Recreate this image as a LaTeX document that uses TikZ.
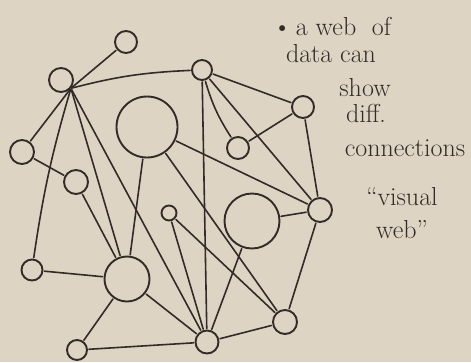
\documentclass[tikz,border=0pt]{standalone}
\usepackage{tikz}
\usetikzlibrary{positioning}
\definecolor{paper}{RGB}{222,212,196}
\definecolor{ink}{RGB}{50,43,40}

\begin{document}
\begin{tikzpicture}[x=1pt,y=-1pt,
  dot/.style={circle,draw=ink,line width=1.9pt,inner sep=0pt,minimum size=#1},
  link/.style={draw=ink,line width=1.6pt,line cap=round,shorten <=1pt,shorten >=1pt},
  note/.style={text=ink,anchor=base,inner sep=0pt,font=\fontsize{26}{30}\selectfont}]
% Paper
\fill[paper] (0,0) rectangle (471,362);
\useasboundingbox (0,0) rectangle (471,362);
% Nodes
\node[dot=22pt] (A) at (126,42) {};
\node[dot=24pt] (B) at (61,80) {};
\node[dot=20pt] (C) at (202,70) {};
\node[dot=61pt] (D) at (147,127) {};
\node[dot=24pt] (E) at (22,152) {};
\node[dot=24pt] (F) at (76,182) {};
\node[dot=22pt] (G) at (303,107) {};
\node[dot=22pt] (H) at (238,148) {};
\node[dot=24pt] (I) at (320,210) {};
\node[dot=55pt] (J) at (252,221) {};
\node[dot=15pt] (K) at (169,213) {};
\node[dot=21pt] (L) at (32,270) {};
\node[dot=45pt] (M) at (127,279) {};
\node[dot=20pt] (N) at (77,350) {};
\node[dot=23pt] (O) at (207,342) {};
\node[dot=24pt] (P) at (285,322) {};
% Links from the left hub
\draw[link] (B.-40) -- (A);
\draw[link] (B.-40) to[bend left=6] (C);
\draw[link] (B.-40) -- (E);
\draw[link] (B.-40) to[bend right=4] (L);
\draw[link] (B.-40) -- (M);
\draw[link] (B.-40) -- (O);
% Other links
\draw[link] (E) -- (F);
\draw[link] (F) -- (M);
\draw[link] (L) -- (M);
\draw[link] (M) -- (N);
\draw[link] (M) -- (O);
\draw[link] (N) -- (O);
\draw[link] (D) -- (M);
\draw[link] (D) -- (P);
\draw[link] (D) -- (I);
\draw[link] (C) -- (G);
\draw[link] (C) to[bend right=8] (H);
\draw[link] (C) -- (I);
\draw[link] (C) -- (O);
\draw[link] (G) -- (H);
\draw[link] (G) -- (I);
\draw[link] (J) -- (I);
\draw[link] (J) -- (O);
\draw[link] (K) -- (O);
\draw[link] (K) -- (P);
\draw[link] (O) -- (P);
\draw[link] (I) -- (P);
% Notes
\node[note] (t1) at (332,35) {\textbullet\,a web\ \ of};
\node[note] (t2) at (331,62) {data\ can};
\node[note] (t3) at (365,96) {show};
\node[note] (t4) at (366,122) {diff.};
\node[note] (t5) at (405,156) {connections};
\node[note] (t6) at (402,205) {``visual};
\node[note] (t7) at (402,238) {web''};
\end{tikzpicture}
\end{document}
